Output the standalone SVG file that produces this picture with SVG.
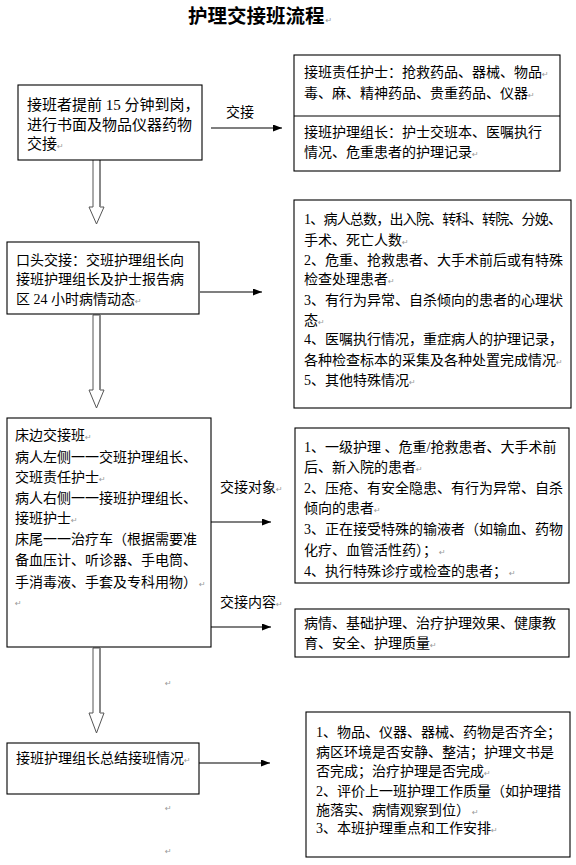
<svg xmlns="http://www.w3.org/2000/svg" width="576" height="865" viewBox="0 0 576 865">
<defs>
<style>
.bx{fill:#fff;stroke:#000;stroke-width:1.1}
.t{font-family:"Liberation Serif","Noto Sans CJK SC",serif;font-size:14px;fill:#000}
.t15{font-size:15px}
.ttl{font-family:"Noto Sans CJK SC",sans-serif;font-size:19.5px;font-weight:700;fill:#000}
.pm{font-family:"DejaVu Sans",sans-serif;font-size:8px;fill:#999;font-weight:400}
.ln{stroke:#000;stroke-width:1.1;fill:none}
.blk{fill:#fff;stroke:#555;stroke-width:1}
.sh{stroke:#888;stroke-width:2;fill:none}
</style>
<marker id="ah" markerUnits="userSpaceOnUse" markerWidth="10" markerHeight="8" refX="9" refY="3.5" orient="auto">
<path d="M0,0 L9,3.5 L0,7 z" fill="#000"/>
</marker>
</defs>
<rect width="576" height="865" fill="#fff"/>

<g id="title">
<text class="ttl" x="188" y="22.5">护理交接班流程<tspan class="pm" dx="1">↵</tspan></text>
</g>

<g id="connectors">
<line class="ln" x1="211" y1="128" x2="282" y2="128" marker-end="url(#ah)"/>
<text class="t" x="226" y="117">交接</text>
<line class="ln" x1="200" y1="292" x2="262" y2="292" marker-end="url(#ah)"/>
<line class="ln" x1="211" y1="522" x2="271" y2="522" marker-end="url(#ah)"/>
<text class="t" x="220" y="492">交接对象<tspan class="pm">↵</tspan></text>
<line class="ln" x1="211" y1="627" x2="271" y2="627" marker-end="url(#ah)"/>
<text class="t" x="220" y="607">交接内容<tspan class="pm">↵</tspan></text>
<line class="ln" x1="199" y1="763" x2="270" y2="763" marker-end="url(#ah)"/>
<polygon class="blk" points="93,159 100,159 100,207 104,207 96.5,224 89,207 93,207"/>
<line class="sh" x1="100" y1="159" x2="100" y2="207"/>
<polygon class="blk" points="93,315 100,315 100,390 104,390 96.5,408 89,390 93,390"/>
<line class="sh" x1="100" y1="315" x2="100" y2="390"/>
<polygon class="blk" points="93,648 100,648 100,713 104,713 96.5,733 89,713 93,713"/>
<line class="sh" x1="100" y1="648" x2="100" y2="713"/>
</g>

<g id="n1">
<rect class="bx" x="18" y="85" width="184" height="75"/>
<text class="t t15" x="27" y="109.5">接班者提前 15 分钟到岗，</text>
<text class="t t15" x="27" y="129.5">进行书面及物品仪器药物</text>
<text class="t t15" x="27" y="148.5">交接<tspan class="pm">↵</tspan></text>
</g>

<g id="n1r">
<rect class="bx" x="294" y="55" width="266" height="116"/>
<line class="ln" x1="294" y1="116" x2="560" y2="116"/>
<text class="t" x="304" y="77">接班责任护士：抢救药品、器械、物品<tspan class="pm">↵</tspan></text>
<text class="t" x="304" y="98">毒、麻、精神药品、贵重药品、仪器<tspan class="pm">↵</tspan></text>
<text class="t" x="304" y="137">接班护理组长：护士交班本、医嘱执行</text>
<text class="t" x="304" y="157">情况、危重患者的护理记录<tspan class="pm">↵</tspan></text>
</g>

<g id="n2">
<rect class="bx" x="7" y="242" width="192" height="72"/>
<text class="t" x="16" y="265">口头交接：交班护理组长向</text>
<text class="t" x="16" y="284">接班护理组长及护士报告病</text>
<text class="t" x="16" y="304">区 24 小时病情动态<tspan class="pm">↵</tspan></text>
</g>

<g id="n2r">
<rect class="bx" x="294" y="200" width="277" height="208"/>
<text class="t" x="304" y="224" textLength="258" lengthAdjust="spacing">1、病人总数，出入院、转科、转院、分娩、</text>
<text class="t" x="304" y="245">手术、死亡人数<tspan class="pm">↵</tspan></text>
<text class="t" x="304" y="265">2、危重、抢救患者、大手术前后或有特殊</text>
<text class="t" x="304" y="284">检查处理患者<tspan class="pm">↵</tspan></text>
<text class="t" x="304" y="305">3、有行为异常、自杀倾向的患者的心理状</text>
<text class="t" x="304" y="325">态<tspan class="pm">↵</tspan></text>
<text class="t" x="304" y="344">4、医嘱执行情况，重症病人的护理记录，</text>
<text class="t" x="304" y="365">各种检查标本的采集及各种处置完成情况<tspan class="pm">↵</tspan></text>
<text class="t" x="304" y="385">5、其他特殊情况<tspan class="pm">↵</tspan></text>
</g>

<g id="n3">
<rect class="bx" x="7" y="418" width="204" height="229"/>
<text class="t" x="15" y="440">床边交接班<tspan class="pm">↵</tspan></text>
<text class="t" x="15" y="462">病人左侧一一交班护理组长、</text>
<text class="t" x="15" y="482">交班责任护士<tspan class="pm">↵</tspan></text>
<text class="t" x="15" y="503">病人右侧一一接班护理组长、</text>
<text class="t" x="15" y="523">接班护士<tspan class="pm">↵</tspan></text>
<text class="t" x="15" y="544">床尾一一治疗车（根据需要准</text>
<text class="t" x="15" y="565">备血压计、听诊器、手电筒、</text>
<text class="t" x="15" y="587">手消毒液、手套及专科用物）<tspan class="pm" dx="2">↵</tspan></text>
<text class="pm" x="15" y="606">↵</text>
</g>

<g id="n3a">
<rect class="bx" x="295" y="428" width="274" height="155"/>
<text class="t" x="304" y="452">1、一级护理 、危重/抢救患者、大手术前</text>
<text class="t" x="304" y="472">后、新入院的患者<tspan class="pm">↵</tspan></text>
<text class="t" x="304" y="493">2、压疮、有安全隐患、有行为异常、自杀</text>
<text class="t" x="304" y="513">倾向的患者<tspan class="pm">↵</tspan></text>
<text class="t" x="304" y="534">3、正在接受特殊的输液者（如输血、药物</text>
<text class="t" x="304" y="555">化疗、血管活性药）；<tspan class="pm" dx="2">↵</tspan></text>
<text class="t" x="304" y="576">4、执行特殊诊疗或检查的患者；<tspan class="pm" dx="2">↵</tspan></text>
</g>

<g id="n3b">
<rect class="bx" x="295" y="609" width="274" height="48"/>
<text class="t" x="304" y="628">病情、基础护理、治疗护理效果、健康教</text>
<text class="t" x="304" y="648">育、安全、护理质量<tspan class="pm">↵</tspan></text>
</g>

<g id="n4">
<rect class="bx" x="7" y="743" width="192" height="51"/>
<text class="t" x="16" y="763">接班护理组长总结接班情况<tspan class="pm">↵</tspan></text>
</g>

<g id="n4r">
<rect class="bx" x="306" y="712" width="264" height="145"/>
<text class="t" x="316" y="737">1、物品、仪器、器械、药物是否齐全；</text>
<text class="t" x="316" y="757">病区环境是否安静、整洁；护理文书是</text>
<text class="t" x="316" y="776">否完成；治疗护理是否完成<tspan class="pm">↵</tspan></text>
<text class="t" x="316" y="796">2、评价上一班护理工作质量（如护理措</text>
<text class="t" x="316" y="815">施落实、病情观察到位）<tspan class="pm" dx="2">↵</tspan></text>
<text class="t" x="316" y="833">3、本班护理重点和工作安排<tspan class="pm">↵</tspan></text>
</g>

<g id="marks">
<text class="pm" x="165" y="686">↵</text>
<text class="pm" x="165" y="811">↵</text>
<text class="pm" x="165" y="854">↵</text>
</g>
</svg>
